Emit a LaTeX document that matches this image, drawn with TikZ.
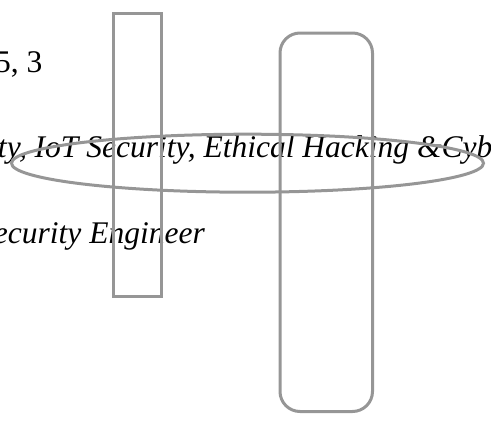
\documentclass[tikz,border=0pt]{standalone}
\usepackage{fontspec}
\setmainfont{Liberation Serif}
\begin{document}
\begin{tikzpicture}[x=1pt,y=-1pt,
  txt/.style={anchor=base west,inner sep=0pt,outer sep=0pt,font=\fontsize{31.5}{38}\selectfont},
  itxt/.style={txt,font=\fontsize{31.5}{38}\selectfont\itshape},
  shp/.style={draw=shapegray,line width=3pt}]
\definecolor{shapegray}{RGB}{150,150,150}
\useasboundingbox (0,0) rectangle (491,423);
\node[txt] (t1) at (-5,72) {5, 3};
\node[itxt] (t2) at (-2,157) {ty, IoT Security, Ethical Hacking \&Cyb};
\node[itxt] (t3) at (-6,243) {ecurity Engineer};
\draw[shp] (113,13.5) rectangle (161,296.5);
\draw[shp,rounded corners=20pt] (280,33) rectangle (372.5,411.5);
\draw[shp] (247.5,163.2) ellipse [x radius=236, y radius=29];
\end{tikzpicture}
\end{document}
